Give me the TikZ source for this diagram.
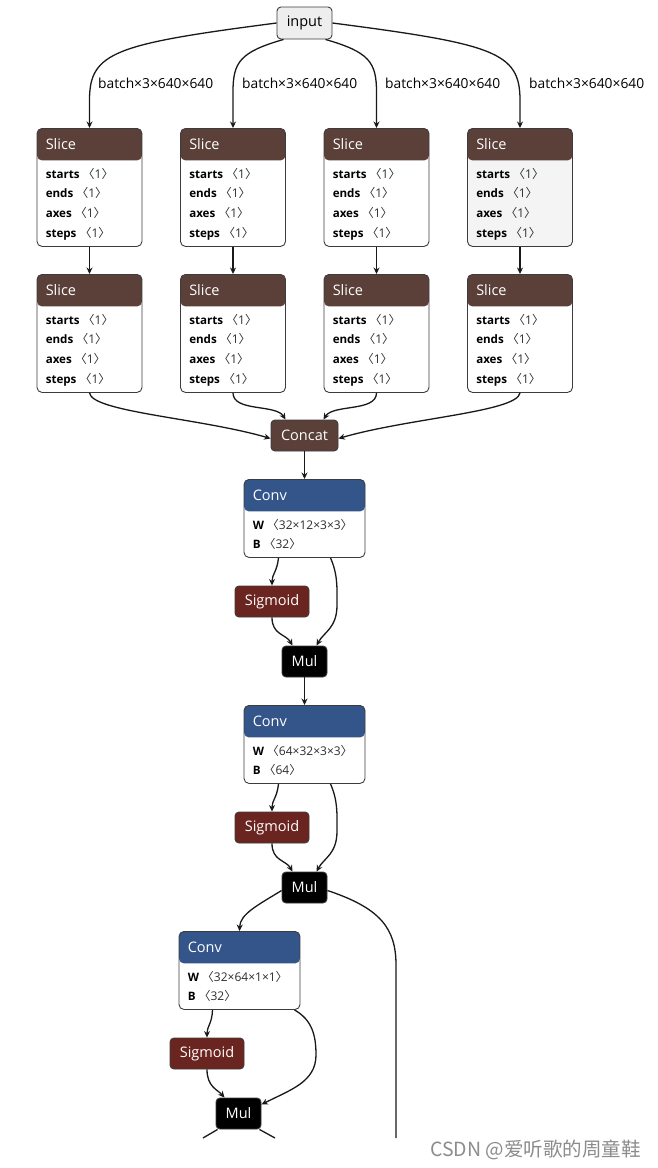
\documentclass[tikz,border=0pt]{standalone}
\usepackage{fontspec}
\setmainfont{Open Sans}
\newfontfamily\cjk{Noto Sans CJK SC}
\usetikzlibrary{arrows.meta}
\definecolor{hdrbrown}{RGB}{90,64,57}
\definecolor{convblue}{RGB}{51,85,138}
\definecolor{sigred}{RGB}{107,37,32}
\definecolor{bordergray}{RGB}{60,60,60}
\definecolor{inputgray}{RGB}{238,238,238}
\definecolor{hoverbody}{RGB}{244,244,244}
\definecolor{valgray}{RGB}{45,45,45}
\newcommand\ab[1]{{\color{valgray}\fontsize{12}{14}\selectfont{\cjk 〈}#1{\cjk 〉}}}
\tikzset{
  edge/.style={line width=1.3pt, draw=black!90, -{Stealth[length=6.5pt,width=6pt]}},
  plainedge/.style={line width=1.3pt, draw=black!90},
  opnode/.style={rounded corners=4pt, draw=bordergray, line width=0.9pt, text=white,
    font=\fontsize{14.5}{16}\selectfont, inner sep=0pt, minimum height=31pt},
  card/.style={rounded corners=5pt, draw=bordergray, line width=0.9pt, inner sep=0pt, anchor=north},
  hdr/.style={path picture={\fill[#1] (path picture bounding box.north west) rectangle ([yshift=-32pt]path picture bounding box.north east);}},
  hdrtext/.style={anchor=west, inner sep=0pt, text=white, font=\fontsize{14.5}{16}\selectfont},
  attrtext/.style={anchor=north west, inner sep=0pt, align=left, font=\fontsize{11.6}{19.6}\selectfont},
  lbl/.style={anchor=west, inner sep=0pt, font=\fontsize{13.8}{15}\selectfont}
}
\newcommand\slicecard[4]{%
  \node[card, fill=#4, hdr=hdrbrown, minimum width=105pt, minimum height=118pt] (#1) at (#2,#3) {};
  \node[hdrtext] (#1-t) at ([xshift=9pt,yshift=-16.5pt]#1.north west) {Slice};
  \node[attrtext] (#1-a) at ([xshift=9pt,yshift=-40pt]#1.north west)
    {\textbf{starts} \ab{1}\\ \textbf{ends} \ab{1}\\ \textbf{axes} \ab{1}\\ \textbf{steps} \ab{1}};
}
\newcommand\convcard[5]{%
  \node[card, fill=white, hdr=convblue, minimum width=121pt, minimum height=78pt] (#1) at (#2,#3) {};
  \node[hdrtext] (#1-t) at ([xshift=9pt,yshift=-16.5pt]#1.north west) {Conv};
  \node[attrtext] (#1-a) at ([xshift=9pt,yshift=-40pt]#1.north west)
    {\textbf{W} \ab{#4}\\ \textbf{B} \ab{#5}};
}
\begin{document}
\begin{tikzpicture}[x=1pt,y=-1pt]
\fill[white] (0,0) rectangle (657,1168);
\useasboundingbox (0,0) rectangle (657,1168);

% input
\node[opnode, fill=inputgray, text=black, minimum width=55pt, minimum height=32pt] (inp) at (304.5,23) {input};

% slices
\slicecard{s11}{89.5}{128}{white}
\slicecard{s12}{233}{128}{white}
\slicecard{s13}{376.5}{128}{white}
\slicecard{s14}{520}{128}{hoverbody}
\slicecard{s21}{89.5}{274}{white}
\slicecard{s22}{233}{274}{white}
\slicecard{s23}{376.5}{274}{white}
\slicecard{s24}{520}{274}{white}

% edges input -> slices
\draw[edge] (inp.west) .. controls (115,44) and (89.5,52) .. (89.5,100) -- (s11.north);
\draw[edge] ([xshift=7pt]inp.south west) .. controls (240,52) and (233,62) .. (233,92) -- (s12.north);
\draw[edge] ([xshift=-7pt]inp.south east) .. controls (369,52) and (376.5,62) .. (376.5,92) -- (s13.north);
\draw[edge] (inp.east) .. controls (494,44) and (520,52) .. (520,100) -- (s14.north);

\node[lbl] (l1) at (98,83) {batch×3×640×640};
\node[lbl] (l2) at (242,83) {batch×3×640×640};
\node[lbl] (l3) at (385,83) {batch×3×640×640};
\node[lbl] (l4) at (529,83) {batch×3×640×640};

\foreach \i in {1,2,3,4}{
  \draw[edge] (s1\i.south) -- (s2\i.north);
}

% concat
\node[opnode, fill=hdrbrown, minimum width=67pt] (cat) at (304.5,435.5) {Concat};
\draw[edge] (s21.south) .. controls (92,412) and (200,418) .. ([yshift=-3pt]cat.west);
\draw[edge] (s22.south) .. controls (233,412) and (276,404) .. ([xshift=-19pt]cat.north);
\draw[edge] (s23.south) .. controls (376.5,412) and (333,404) .. ([xshift=19pt]cat.north);
\draw[edge] (s24.south) .. controls (517,412) and (409,418) .. ([yshift=-3pt]cat.east);

% block 1
\convcard{c1}{304.5}{479}{32×12×3×3}{32}
\node[opnode, fill=sigred, minimum width=74pt] (sg1) at (272,601.5) {Sigmoid};
\node[opnode, fill=black, minimum width=45pt] (m1) at (304.5,661.5) {Mul};
\draw[edge] (cat.south) -- (c1.north);
\draw[edge] ([xshift=-26pt]c1.south) .. controls (277,572) and (272,574) .. (sg1.north);
\draw[edge] ([xshift=26pt]c1.south) .. controls (338,575) and (337,588) .. (337,605) .. controls (337,628) and (324,632) .. ([xshift=12pt]m1.north);
\draw[edge] (sg1.south) .. controls (272,635) and (286,634) .. ([xshift=-12pt]m1.north);

% block 2
\convcard{c2}{304.5}{705}{64×32×3×3}{64}
\node[opnode, fill=sigred, minimum width=74pt] (sg2) at (272,827.5) {Sigmoid};
\node[opnode, fill=black, minimum width=45pt] (m2) at (304.5,887.5) {Mul};
\draw[edge] (m1.south) -- (c2.north);
\draw[edge] ([xshift=-26pt]c2.south) .. controls (277,798) and (272,800) .. (sg2.north);
\draw[edge] ([xshift=26pt]c2.south) .. controls (338,801) and (337,814) .. (337,831) .. controls (337,854) and (324,858) .. ([xshift=12pt]m2.north);
\draw[edge] (sg2.south) .. controls (272,861) and (286,860) .. ([xshift=-12pt]m2.north);

% block 3
\convcard{c3}{239.5}{931}{32×64×1×1}{32}
\node[opnode, fill=sigred, minimum width=74pt] (sg3) at (207,1053.5) {Sigmoid};
\node[opnode, fill=black, minimum width=45pt] (m3) at (238.5,1113.5) {Mul};
\draw[edge] ([yshift=-3pt]m2.west) .. controls (258,905) and (240,914) .. (c3.north);
\draw[edge] ([xshift=-27pt]c3.south) .. controls (212,1024) and (207,1026) .. (sg3.north);
\draw[edge] ([xshift=55pt]c3.south) .. controls (312,1020) and (316,1035) .. (316,1055) .. controls (316,1082) and (290,1090) .. ([yshift=9pt]m3.east);
\draw[edge] (sg3.south) .. controls (207,1087) and (218,1090) .. ([xshift=-14pt]m3.north);

% outgoing cut-off edges
\coordinate (e1) at (396,1138);
\coordinate (e2) at (203,1138);
\coordinate (e3) at (275,1138);
\draw[plainedge] ([yshift=-3pt]m2.east) .. controls (380,908) and (396,928) .. (396,965) -- (e1);
\draw[plainedge] ([xshift=2pt]m3.south west) -- (e2);
\draw[plainedge] ([xshift=-2pt]m3.south east) -- (e3);

% watermark
\node[anchor=west, inner sep=0pt, text=black!45, font=\cjk\fontsize{19.5}{22}\selectfont] (wm) at (430,1150) {CSDN @爱听歌的周童鞋};
\end{tikzpicture}
\end{document}
